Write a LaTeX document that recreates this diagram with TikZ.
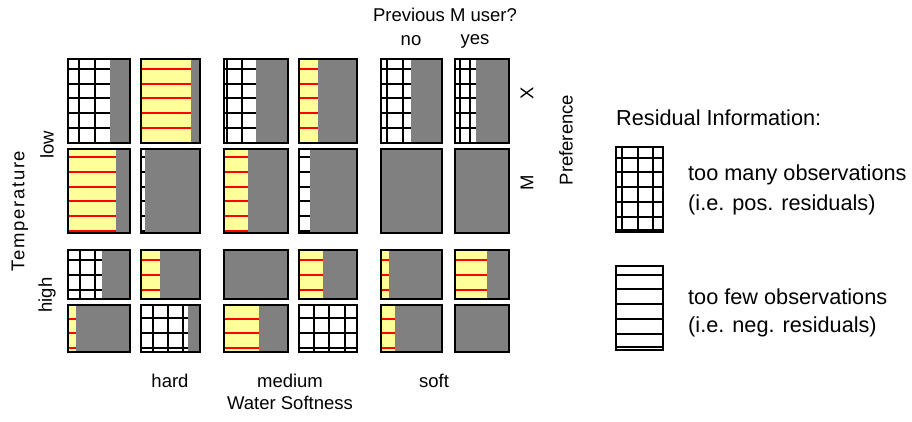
\documentclass[tikz,border=0pt]{standalone}
\usepackage{fontspec}
\setmainfont{Liberation Sans}
\newfontfamily\widesans[LetterSpace=9]{Liberation Sans}
\definecolor{cellgray}{RGB}{128,128,128}
\definecolor{hiyellow}{RGB}{255,255,153}
\tikzset{
  cellborder/.style={draw=black, line width=2.2pt},
  gridline/.style={black, line width=1.4pt},
  redline/.style={red, line width=1.6pt},
  legborder/.style={draw=black, line width=1.1pt},
  legline/.style={black, line width=1.1pt},
  lbl/.style={font=\fontsize{18.5}{20}\selectfont, inner sep=0pt},
  leg/.style={font=\fontsize{21.7}{24}\selectfont, inner sep=0pt, anchor=west},
}
% #1 x0, #2 x1, #3 y0, #4 y1, #5 split, #6 vertical lines, #7 horizontal lines
\newcommand\gridcell[7]{%
  \fill[cellgray] (#1,#3) rectangle (#2,#4);
  \fill[white] (#1,#3) rectangle (#5,#4);
  \foreach \v in {#6} \draw[gridline] (\v,#3) -- (\v,#4);
  \foreach \h in {#7} \draw[gridline] (#1,\h) -- (#5,\h);
  \draw[cellborder] (#1,#3) rectangle (#2,#4);
}
% #1 x0, #2 x1, #3 y0, #4 y1, #5 split, #6 horizontal lines
\newcommand\yelcell[6]{%
  \fill[cellgray] (#1,#3) rectangle (#2,#4);
  \fill[hiyellow] (#1,#3) rectangle (#5,#4);
  \foreach \h in {#6} \draw[redline] (#1,\h) -- (#5,\h);
  \draw[cellborder] (#1,#3) rectangle (#2,#4);
}
\newcommand\negcell[6]{%
  \fill[cellgray] (#1,#3) rectangle (#2,#4);
  \fill[white] (#1,#3) rectangle (#5,#4);
  \foreach \h in {#6} \draw[gridline] (#1,\h) -- (#5,\h);
  \draw[cellborder] (#1,#3) rectangle (#2,#4);
}
\newcommand\graycell[4]{%
  \fill[cellgray] (#1,#3) rectangle (#2,#4);
  \draw[cellborder] (#1,#3) rectangle (#2,#4);
}
\begin{document}
\begin{tikzpicture}[x=1pt,y=-1pt]
\fill[white] (0,0) rectangle (912,421);
\useasboundingbox (0,0) rectangle (912,421);

% row 1 (low, X)
\gridcell{68}{130}{59}{143}{110}{79,95}{69,84,98,113,128}
\yelcell{141}{200}{59}{143}{191}{69,84,98,113,128}
\gridcell{224}{288}{59}{143}{256}{227,242}{69,84,98,113,128}
\yelcell{299}{357}{59}{143}{318}{69,84,98,113,128}
\gridcell{381}{442}{59}{143}{411}{387,403}{69,84,98,113,128}
\gridcell{455}{509}{59}{143}{476}{460,470}{69,84,98,113,128}
% row 2 (low, M)
\yelcell{68}{130}{149}{233}{116}{157,172,187,201,216,231}
\negcell{141}{200}{149}{233}{145}{157,172,187,201,216,231}
\yelcell{224}{288}{149}{233}{248}{157,172,187,201,216,231}
\negcell{299}{357}{149}{233}{310}{157,172,187,201,216,231}
\graycell{381}{442}{149}{233}
\graycell{455}{509}{149}{233}
% row 3 (high, X)
\gridcell{68}{130}{250}{299}{102}{80,95}{260,275,290}
\yelcell{141}{200}{250}{299}{160}{260,275,290}
\graycell{224}{288}{250}{299}
\yelcell{299}{357}{250}{299}{323}{260,275,290}
\yelcell{381}{442}{250}{299}{389}{260,275,290}
\yelcell{455}{509}{250}{299}{487}{260,275,290}
% row 4 (high, M)
\yelcell{68}{130}{305}{352}{76}{305,319,333,348}
\gridcell{141}{200}{305}{352}{188}{153,168,183}{318,333,348}
\yelcell{224}{288}{305}{352}{259}{305,319,333,348}
\gridcell{299}{357}{305}{352}{357}{314,329,345}{318,333,348}
\yelcell{381}{442}{305}{352}{395}{305,319,333,348}
\graycell{455}{509}{305}{352}

% axis labels
\node[lbl] (prev) at (445,15) {Previous M user?};
\node[lbl] (no) at (411,41) {no};
\node[lbl] (yes) at (475,41) {yes};
\node[lbl, rotate=90] (px) at (527,93) {X};
\node[lbl, rotate=90] (pm) at (527,183) {M};
\node[lbl, rotate=90] (pref) at (566,140) {Preference};
\node[lbl, rotate=90, font=\widesans\fontsize{18.5}{20}\selectfont] (temp) at (20,211) {Temperature};
\node[lbl, rotate=90] (low) at (47,145) {low};
\node[lbl, rotate=90] (high) at (47,295) {high};
\node[lbl] (hard) at (170,381) {hard};
\node[lbl] (medium) at (290,381) {medium};
\node[lbl] (soft) at (434,381) {soft};
\node[lbl] (water) at (290,403) {Water Softness};

% legend
\node[leg] (restitle) at (616,118) {Residual Information:};
\fill[white] (616,147) rectangle (663,232);
\foreach \v in {622,638,653} \draw[legline] (\v,147) -- (\v,232);
\foreach \h in {158,172,187,202,217,230} \draw[legline] (616,\h) -- (663,\h);
\draw[legborder] (616,147) rectangle (663,232);
\node[leg] (many1) at (688,175) {too many observations};
\node[leg] (many2) at (688,205) {(i.e. pos. residuals)};

\fill[white] (616,266) rectangle (663,350);
\foreach \h in {275,289,304,319,334,347} \draw[legline] (616,\h) -- (663,\h);
\draw[legborder] (616,266) rectangle (663,350);
\node[leg] (few1) at (688,297) {too few observations};
\node[leg] (few2) at (688,327) {(i.e. neg. residuals)};
\end{tikzpicture}
\end{document}
